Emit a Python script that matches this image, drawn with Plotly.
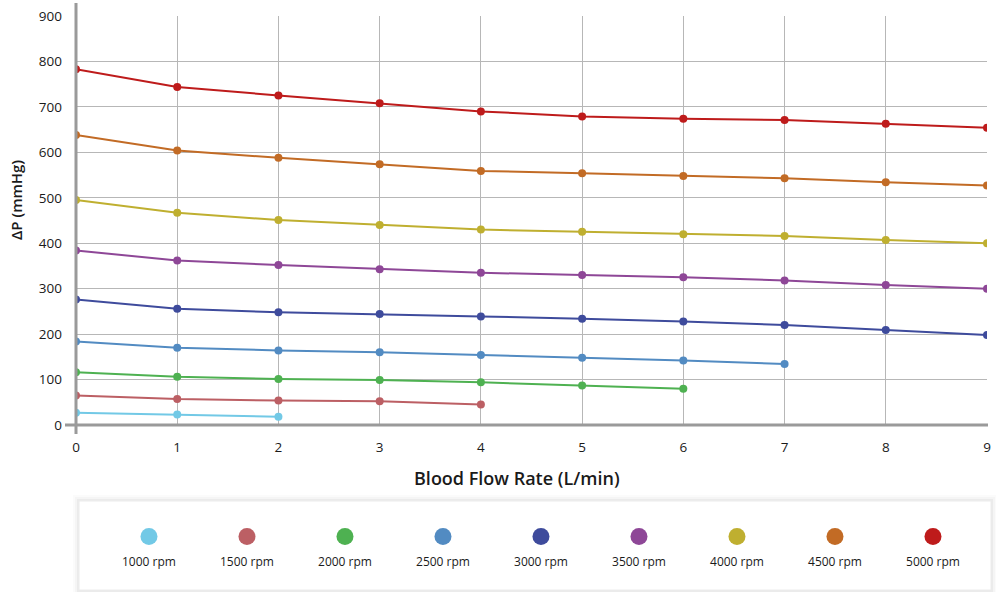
import plotly.graph_objects as go

# ---- data ----
flow = [0, 1, 2, 3, 4, 5, 6, 7, 8, 9]
speeds = ["1000 rpm", "1500 rpm", "2000 rpm", "2500 rpm", "3000 rpm",
          "3500 rpm", "4000 rpm", "4500 rpm", "5000 rpm"]
dp_1000 = [27, 23, 18]
dp_1500 = [65, 57, 54, 52, 45]
dp_2000 = [116, 106, 101, 99, 94, 87, 80]
dp_2500 = [184, 170, 164, 160, 154, 148, 142, 134]
dp_3000 = [276, 256, 248, 244, 239, 234, 228, 220, 209, 198]
dp_3500 = [384, 362, 352, 343, 335, 330, 325, 318, 308, 300]
dp_4000 = [495, 467, 451, 440, 430, 425, 420, 416, 407, 400]
dp_4500 = [638, 604, 588, 574, 559, 554, 548, 543, 534, 527]
dp_5000 = [783, 744, 725, 708, 690, 679, 674, 671, 663, 654]
colors = ["#72C9E6", "#BC5F64", "#4EB151", "#528BC2", "#3E4B9C",
          "#8E4797", "#BFAF30", "#C26B25", "#BE1B1B"]
y_ticks = [0, 100, 200, 300, 400, 500, 600, 700, 800, 900]

series = [dp_1000, dp_1500, dp_2000, dp_2500, dp_3000,
          dp_3500, dp_4000, dp_4500, dp_5000]

W, H = 996, 592
FONT = "Open Sans"
TXT = "#1a1a1a"

fig = go.Figure()
for name, vals, col in zip(speeds, series, colors):
    fig.add_trace(go.Scatter(
        x=flow[:len(vals)], y=vals, name=name, mode="lines+markers",
        line=dict(color=col, width=2), marker=dict(color=col, size=8),
        showlegend=False, xaxis="x", yaxis="y"))

# custom legend (markers above labels)
idx = list(range(len(speeds)))
fig.add_trace(go.Scatter(x=idx, y=[0.6] * len(idx), mode="markers",
                         marker=dict(color=colors, size=17),
                         showlegend=False, hoverinfo="skip",
                         xaxis="x2", yaxis="y2"))
fig.add_trace(go.Scatter(x=idx, y=[0.3] * len(idx), mode="text", text=speeds,
                         textfont=dict(family=FONT, size=12, color=TXT),
                         showlegend=False, hoverinfo="skip",
                         xaxis="x2", yaxis="y2"))

px = lambda v: v / W
py = lambda v: (H - v) / H

GRID = "#b7b7b7"
AXIS = "#9a9a9a"

shapes = []
# legend box shadow + box
for k, op in [(6, 0.015), (4, 0.025), (2, 0.04)]:
    shapes.append(dict(type="rect", xref="paper", yref="paper",
                       x0=px(79 - k), x1=px(991 + k), y0=py(590 + k), y1=py(501 - k),
                       fillcolor="rgba(0,0,0,%s)" % op, line=dict(width=0), layer="below"))
shapes.append(dict(type="rect", xref="paper", yref="paper",
                   x0=px(79), x1=px(991), y0=py(590), y1=py(501),
                   fillcolor="white", line=dict(color="#ececec", width=1), layer="below"))
# axis lines (extended past origin)
shapes.append(dict(type="line", xref="paper", yref="paper",
                   x0=px(76), x1=px(76), y0=py(434), y1=py(3),
                   line=dict(color=AXIS, width=3), layer="above"))
shapes.append(dict(type="line", xref="paper", yref="paper",
                   x0=px(65), x1=px(988), y0=py(425), y1=py(425),
                   line=dict(color=AXIS, width=3), layer="above"))

fig.update_layout(
    width=W, height=H, margin=dict(l=0, r=0, t=0, b=0, pad=0),
    paper_bgcolor="white", plot_bgcolor="white",
    font=dict(family=FONT, color=TXT, size=13),
    xaxis=dict(domain=[px(76), px(987)], range=[0, 9], tickvals=flow,
               showgrid=True, gridcolor=GRID, gridwidth=1.3, zeroline=False,
               showline=False, ticks="", ticklabelstandoff=12, automargin=False,
               tickfont=dict(size=13.5, color=TXT), fixedrange=True),
    yaxis=dict(domain=[py(425), py(16)], range=[0, 900], tickvals=y_ticks,
               showgrid=True, gridcolor=GRID, gridwidth=1.3, zeroline=False,
               showline=False, ticks="", ticklabelstandoff=13, automargin=False,
               tickfont=dict(size=13.5, color=TXT), fixedrange=True),
    xaxis2=dict(domain=[px(79), px(991)], range=[-0.714, 8.592], visible=False,
                anchor="y2", fixedrange=True, automargin=False),
    yaxis2=dict(domain=[py(590), py(501)], range=[0, 1], visible=False,
                anchor="x2", fixedrange=True, automargin=False),
    shapes=shapes,
    annotations=[
        dict(text="Blood Flow Rate (L/min)", xref="paper", yref="paper",
             x=px(517), y=py(478), xanchor="center", yanchor="middle",
             showarrow=False,
             font=dict(family=FONT, size=18, color=TXT, weight=600)),
        dict(text="ΔP (mmHg)", xref="paper", yref="paper", textangle=-90,
             x=px(16), y=py(200), xanchor="center", yanchor="middle",
             showarrow=False,
             font=dict(family=FONT, size=15, color=TXT, weight=600)),
    ],
)

fig.write_html(
    "out.html",
    config={"displayModeBar": False},
    post_script="document.body.style.margin='0';document.body.style.overflow='hidden';",
)
